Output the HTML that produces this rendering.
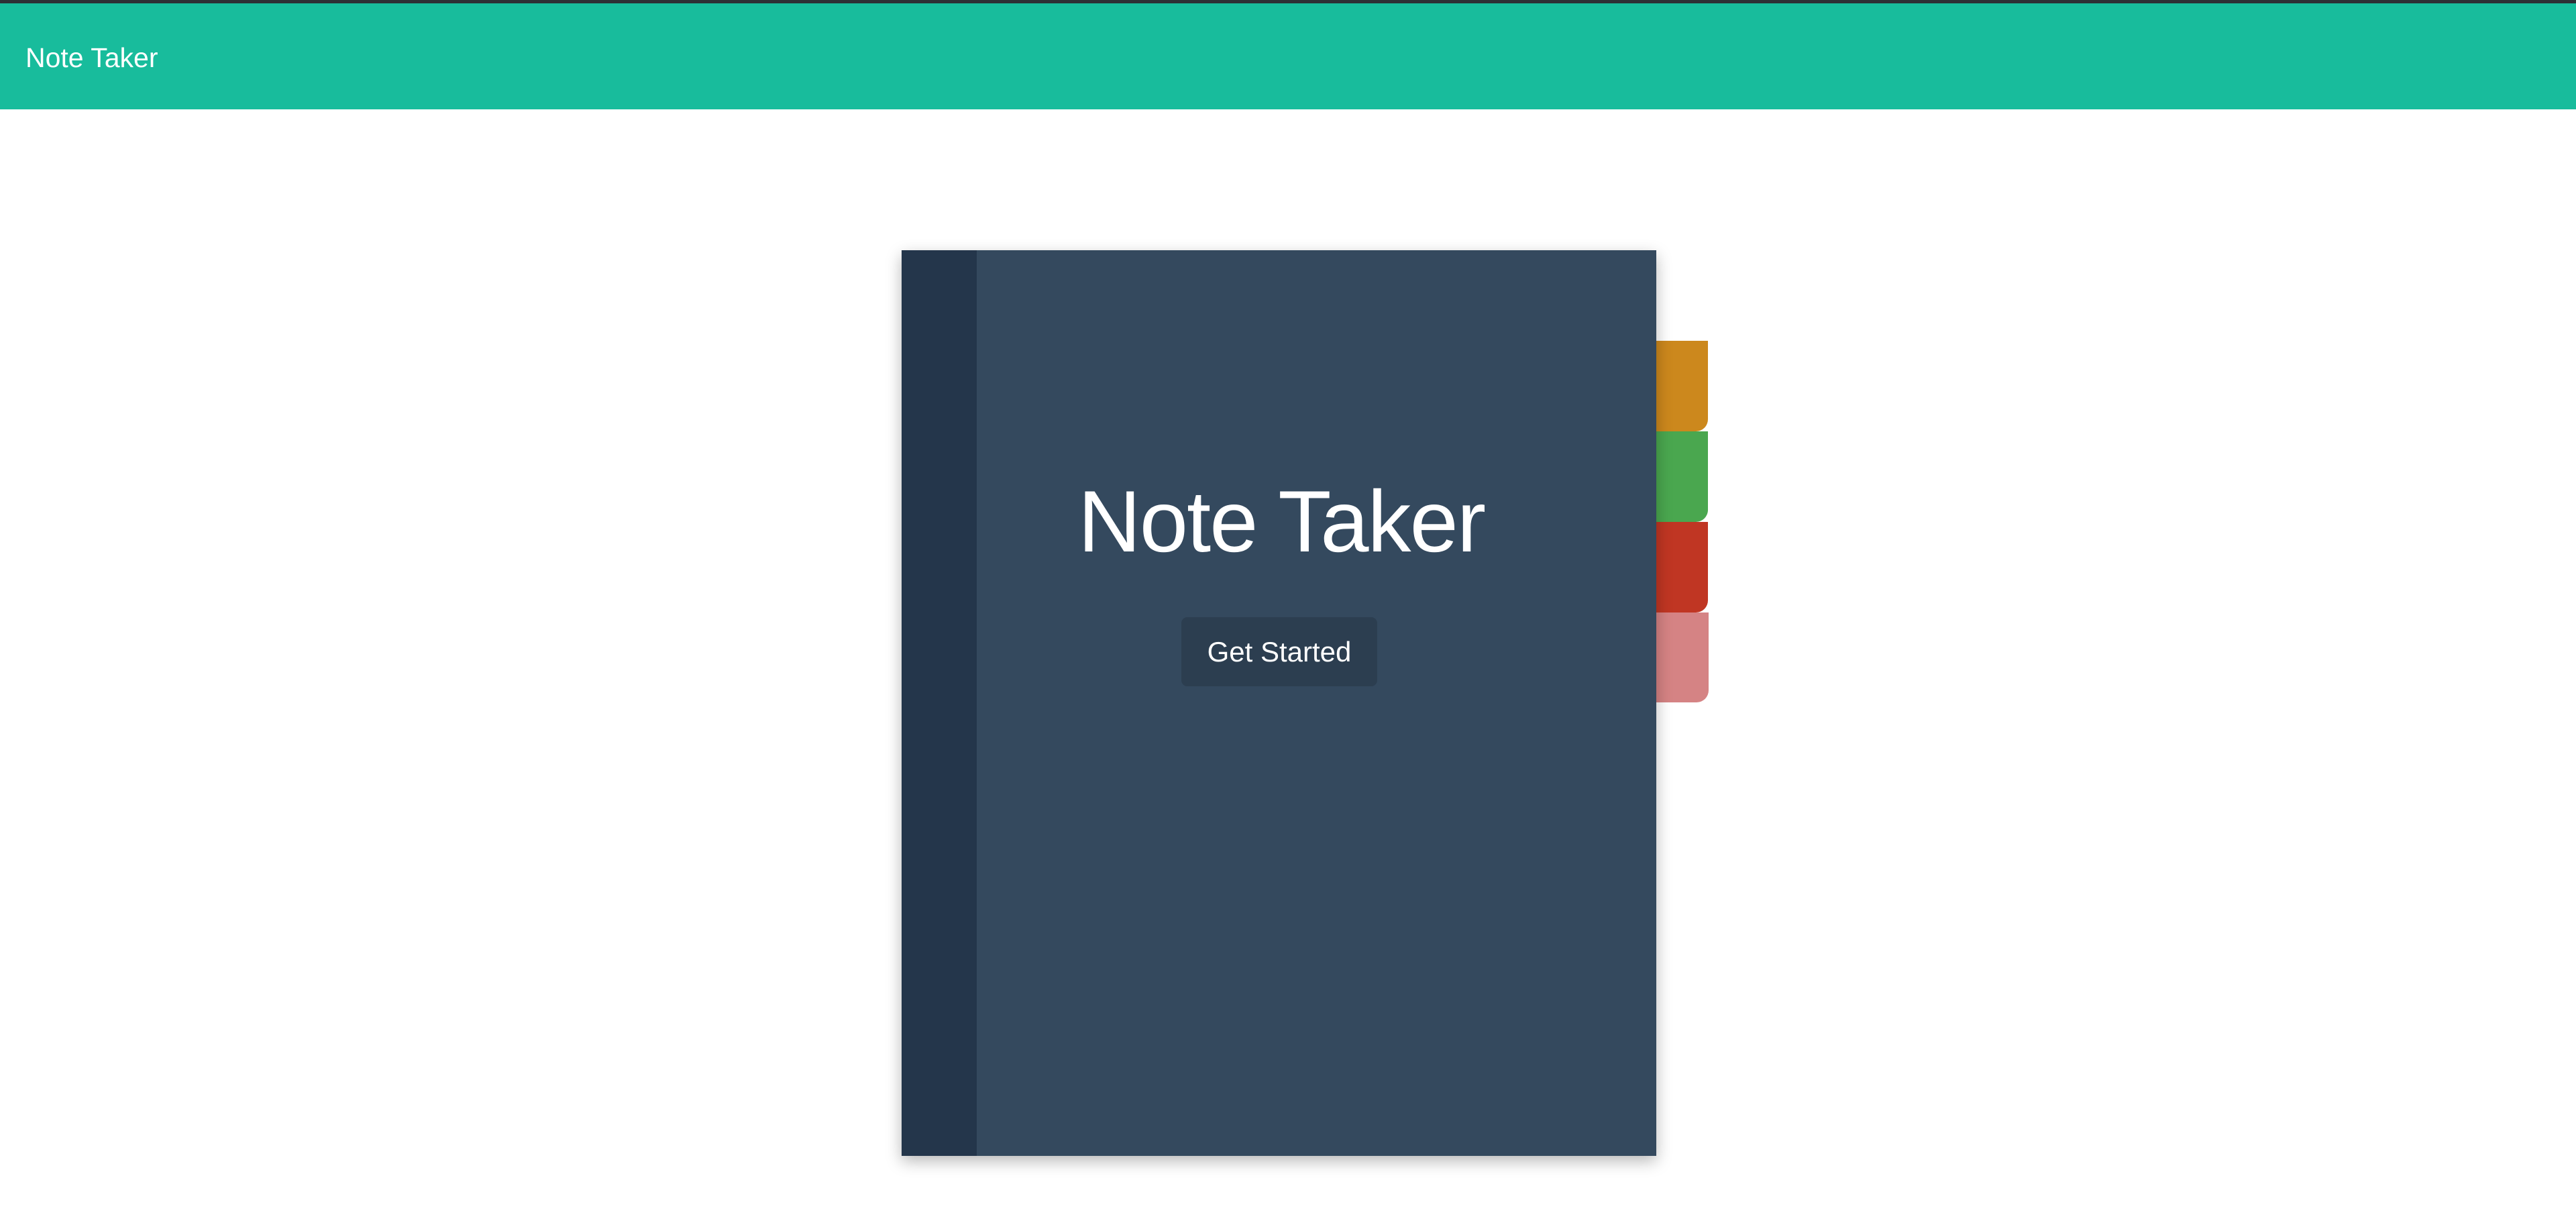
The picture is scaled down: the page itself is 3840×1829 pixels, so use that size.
<!DOCTYPE html>
<html><head><meta charset="utf-8"><style>
html,body{margin:0;padding:0;width:3840px;height:1829px;background:#fff;overflow:hidden;font-family:"Liberation Sans",sans-serif;}
.abs{position:absolute;}
</style></head><body>
<div class="abs" style="left:0;top:0;width:3840px;height:5px;background:#2d3035"></div>
<div class="abs" style="left:0;top:5px;width:3840px;height:158px;background:#18bc9c"></div>
<div class="abs" style="left:38px;top:66px;font-size:41px;line-height:1;color:#fff;white-space:nowrap">Note Taker</div>

<div class="abs" style="left:2440px;top:508px;width:106px;height:135px;background:#cc881d;border-bottom-right-radius:18px"></div>
<div class="abs" style="left:2440px;top:643px;width:106px;height:135px;background:#4aa74f;border-bottom-right-radius:18px"></div>
<div class="abs" style="left:2440px;top:778px;width:106px;height:135px;background:#c03623;border-bottom-right-radius:18px"></div>
<div class="abs" style="left:2440px;top:913px;width:107px;height:134px;background:#d58384;border-bottom-right-radius:18px"></div>

<div class="abs" style="left:1344px;top:373px;width:1125px;height:1350px;background:#34495e;box-shadow:0 8px 22px rgba(0,0,0,0.28)"></div>
<div class="abs" style="left:1344px;top:373px;width:112px;height:1350px;background:#24364b"></div>

<div class="abs" style="left:1410px;top:712px;width:1000px;text-align:center;font-size:130px;line-height:1;letter-spacing:-2px;color:#fff;white-space:nowrap">Note Taker</div>

<div class="abs" style="left:1761px;top:920px;width:292px;height:103px;background:#2c3e50;border-radius:9px"></div>
<div class="abs" style="left:1761px;top:951px;width:292px;text-align:center;font-size:42px;line-height:1;color:#fff;white-space:nowrap">Get Started</div>
</body></html>
